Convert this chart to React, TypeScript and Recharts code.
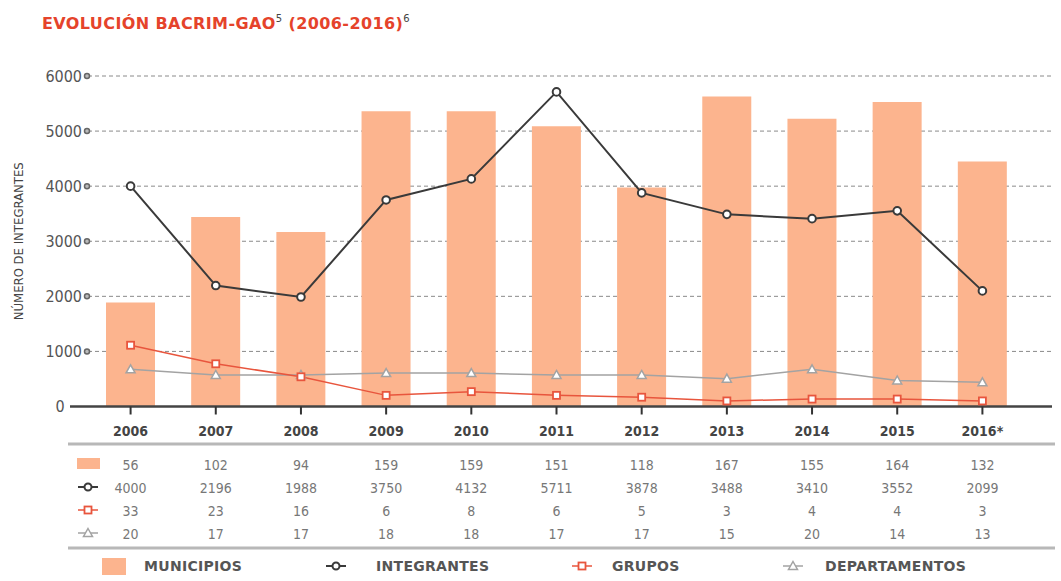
import {
  Bar,
  CartesianGrid,
  ComposedChart,
  Line,
  XAxis,
  YAxis,
} from "recharts";

const years = ["2006", "2007", "2008", "2009", "2010", "2011", "2012", "2013", "2014", "2015", "2016*"];
const municipios = [56, 102, 94, 159, 159, 151, 118, 167, 155, 164, 132];
const integrantes = [4000, 2196, 1988, 3750, 4132, 5711, 3878, 3488, 3410, 3552, 2099];
const grupos = [33, 23, 16, 6, 8, 6, 5, 3, 4, 4, 3];
const departamentos = [20, 17, 17, 18, 18, 17, 17, 15, 20, 14, 13];
const yTicks = [0, 1000, 2000, 3000, 4000, 5000, 6000];

const data = years.map((year, i) => ({
  year,
  municipios: municipios[i],
  integrantes: integrantes[i],
  grupos: grupos[i],
  departamentos: departamentos[i],
}));

const BAR = "#fcb48e";
const DARK = "#3a3a3a";
const RED = "#e8553d";
const GRAY = "#a3a3a3";
const NARROW = "'Liberation Sans Narrow', 'DejaVu Sans Condensed', 'Roboto Condensed', sans-serif";
const WIDE = "'DejaVu Sans', Verdana, sans-serif";

function YTick({ x, y, payload }: any) {
  if (payload.value === 0) {
    return (
      <g>
        <text x={x - 28} y={y} dy={5.5} textAnchor="middle" fontSize={16} fill="#555" fontFamily={NARROW} style={{ fontStretch: "condensed" }}>
          0
        </text>
        <line x1={x - 18} x2={x} y1={y} y2={y} stroke="#444" strokeWidth={2.5} />
      </g>
    );
  }
  return (
    <g>
      <text x={x - 6} y={y} dy={5.5} textAnchor="end" fontSize={16} fill="#555" fontFamily={NARROW} style={{ fontStretch: "condensed" }}>
        {payload.value}
      </text>
      <circle cx={x - 1} cy={y} r={2.5} fill="#bbb" stroke="#666" strokeWidth={1.5} />
    </g>
  );
}

function TableTick({ x, y, payload }: any) {
  const i = years.indexOf(payload.value);
  const rows = [municipios[i], integrantes[i], grupos[i], departamentos[i]];
  return (
    <g fontFamily={NARROW} style={{ fontStretch: "condensed" }} textAnchor="middle">
      <text x={x} y={y + 21} fontSize={14} fill="#444" fontWeight="bold">
        {payload.value}
      </text>
      {rows.map((v, r) => (
        <text key={r} x={x} y={y + 55 + r * 23.3} fontSize={14} fill="#777">
          {v}
        </text>
      ))}
    </g>
  );
}

function CircleDot({ cx, cy, index }: any) {
  return <circle key={index} cx={cx} cy={cy} r={3.8} fill="#fff" stroke={DARK} strokeWidth={2} />;
}

function SquareDot({ cx, cy, index }: any) {
  return <rect key={index} x={cx - 3.5} y={cy - 3.5} width={7} height={7} fill="#fff" stroke={RED} strokeWidth={1.8} />;
}

function TriangleDot({ cx, cy, index }: any) {
  return (
    <polygon
      key={index}
      points={`${cx},${cy - 4.5} ${cx + 4.5},${cy + 3.5} ${cx - 4.5},${cy + 3.5}`}
      fill="#fff"
      stroke={GRAY}
      strokeWidth={1.5}
    />
  );
}

function AxisTitle({ viewBox }: any) {
  const cx = viewBox.x + 18;
  const cy = viewBox.y + viewBox.height / 2;
  return (
    <text
      x={cx}
      y={cy}
      transform={`rotate(-90, ${cx}, ${cy})`}
      textAnchor="middle"
      dominantBaseline="central"
      fontSize={13}
      fill="#444"
      fontFamily={NARROW}
      style={{ fontStretch: "condensed" }}
    >
      NÚMERO DE INTEGRANTES
    </text>
  );
}

const rowY = [463, 487, 510, 533];

function RowIcon({ kind, x, y }: { kind: number; x: number; y: number }) {
  if (kind === 0) return <rect x={x - 11} y={y - 5} width={23} height={11} fill={BAR} />;
  const color = kind === 1 ? DARK : kind === 2 ? RED : GRAY;
  const mark =
    kind === 1 ? (
      <circle cx={x} cy={y} r={3.5} fill="#fff" stroke={DARK} strokeWidth={2} />
    ) : kind === 2 ? (
      <rect x={x - 3.5} y={y - 3.5} width={7} height={7} fill="#fff" stroke={RED} strokeWidth={1.8} />
    ) : (
      <polygon points={`${x},${y - 4.5} ${x + 4.5},${y + 3.5} ${x - 4.5},${y + 3.5}`} fill="#fff" stroke={GRAY} strokeWidth={1.5} />
    );
  return (
    <g>
      <line x1={x - 10} x2={x + 10} y1={y} y2={y} stroke={color} strokeWidth={kind === 1 ? 2 : 1.5} />
      {mark}
    </g>
  );
}

const legendItems = [
  { label: "MUNICIPIOS", iconX: 114, textX: 144 },
  { label: "INTEGRANTES", iconX: 336, textX: 376 },
  { label: "GRUPOS", iconX: 582, textX: 612 },
  { label: "DEPARTAMENTOS", iconX: 793, textX: 825 },
];

export default function App() {
  return (
    <div style={{ position: "absolute", left: 0, top: 0, width: 1061, height: 581, background: "#fff" }}>
      <ComposedChart
        width={1061}
        height={581}
        data={data}
        margin={{ top: 76, right: 9, bottom: 0, left: 0 }}
      >
        <CartesianGrid yAxisId="left" vertical={false} stroke="#8a8a8a" strokeDasharray="4 3" />
        <XAxis
          dataKey="year"
          height={174.5}
          interval={0}
          padding={{ left: 0, right: 27 }}
          axisLine={{ stroke: "#444", strokeWidth: 2.5 }}
          tickLine={{ stroke: "#333", strokeWidth: 2 }}
          tickSize={8}
          tickMargin={0}
          tick={<TableTick />}
        />
        <YAxis
          yAxisId="left"
          domain={[0, 6000]}
          ticks={yTicks}
          width={88}
          axisLine={false}
          tickLine={false}
          tickSize={0}
          tickMargin={0}
          tick={<YTick />}
          label={{ content: <AxisTitle /> }}
        />
        <YAxis yAxisId="right" orientation="right" domain={[0, 178]} hide />
        <Bar yAxisId="right" dataKey="municipios" fill={BAR} barSize={49} isAnimationActive={false} />
        <Line
          yAxisId="left"
          dataKey="integrantes"
          stroke={DARK}
          strokeWidth={2}
          dot={<CircleDot />}
          activeDot={false}
          isAnimationActive={false}
        />
        <Line
          yAxisId="right"
          dataKey="departamentos"
          stroke={GRAY}
          strokeWidth={1.5}
          dot={<TriangleDot />}
          activeDot={false}
          isAnimationActive={false}
        />
        <Line
          yAxisId="right"
          dataKey="grupos"
          stroke={RED}
          strokeWidth={1.5}
          dot={<SquareDot />}
          activeDot={false}
          isAnimationActive={false}
        />
      </ComposedChart>

      <svg width={1061} height={581} style={{ position: "absolute", left: 0, top: 0, pointerEvents: "none" }}>
        <text x={42} y={29} fontFamily={WIDE} fontWeight="bold" fontSize={16} fill="#e5432b" letterSpacing={0.4}>
          EVOLUCIÓN BACRIM-GAO
          <tspan fontSize={10} fill="#444" fontWeight="normal" dy={-7}>5</tspan>
          <tspan dy={7}> (2006-2016)</tspan>
          <tspan fontSize={10} fill="#444" fontWeight="normal" dy={-7}>6</tspan>
        </text>

        <line x1={68} x2={1055} y1={444} y2={444} stroke="#b8b8b8" strokeWidth={3} />
        <line x1={68} x2={1055} y1={548} y2={548} stroke="#b8b8b8" strokeWidth={3} />
        {rowY.map((y, k) => (
          <RowIcon key={k} kind={k} x={88} y={y} />
        ))}

        {legendItems.map((item, k) => (
          <g key={item.label}>
            {k === 0 ? (
              <rect x={102} y={558} width={24} height={17} fill={BAR} />
            ) : (
              <RowIcon kind={k} x={item.iconX} y={566} />
            )}
            <text
              x={item.textX}
              y={571}
              fontFamily={WIDE}
              fontWeight="bold"
              fontSize={14}
              fill="#555"
              letterSpacing={0.3}
            >
              {item.label}
            </text>
          </g>
        ))}
      </svg>
    </div>
  );
}
